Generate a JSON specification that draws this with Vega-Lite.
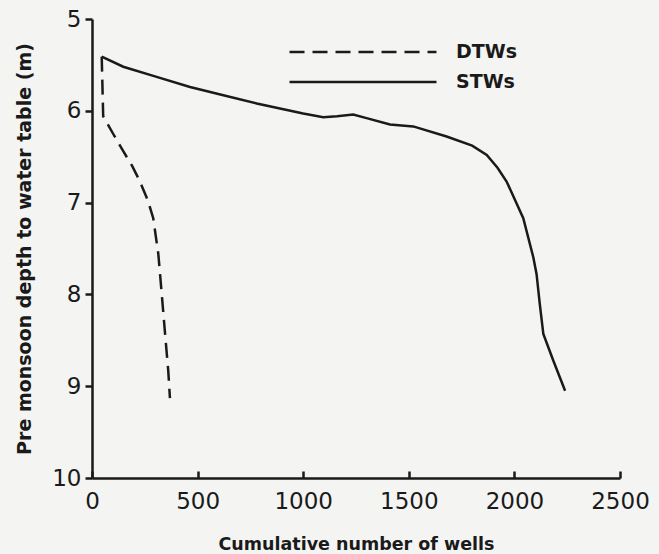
{
  "$schema": "https://vega.github.io/schema/vega-lite/v6.json",
  "width": 528,
  "height": 459,
  "autosize": "none",
  "padding": {"left": 92, "top": 19, "right": 39, "bottom": 76},
  "background": "#f4f4f2",
  "config": {
    "view": {"stroke": null},
    "font": "DejaVu Sans",
    "axis": {
      "domainColor": "#1a1a1a",
      "domainWidth": 2.5,
      "tickColor": "#1a1a1a",
      "tickWidth": 2.5,
      "labelColor": "#1a1a1a",
      "titleColor": "#1a1a1a",
      "labelFont": "DejaVu Sans",
      "titleFont": "DejaVu Sans",
      "labelFontSize": 23,
      "titleFontSize": 17.5,
      "titleFontWeight": "bold",
      "grid": false
    },
    "legend": {
      "labelFont": "DejaVu Sans",
      "labelFontSize": 19,
      "labelFontWeight": "bold",
      "labelColor": "#1a1a1a"
    }
  },
  "data": {
    "values": [
      {"series": "DTWs", "order": 1, "wells": 46, "depth": 5.41},
      {"series": "DTWs", "order": 2, "wells": 53, "depth": 6.06},
      {"series": "DTWs", "order": 3, "wells": 100, "depth": 6.25},
      {"series": "DTWs", "order": 4, "wells": 148, "depth": 6.44},
      {"series": "DTWs", "order": 5, "wells": 190, "depth": 6.6},
      {"series": "DTWs", "order": 6, "wells": 227, "depth": 6.77},
      {"series": "DTWs", "order": 7, "wells": 265, "depth": 6.98},
      {"series": "DTWs", "order": 8, "wells": 290, "depth": 7.17},
      {"series": "DTWs", "order": 9, "wells": 314, "depth": 7.56},
      {"series": "DTWs", "order": 10, "wells": 330, "depth": 7.99},
      {"series": "DTWs", "order": 11, "wells": 346, "depth": 8.43},
      {"series": "DTWs", "order": 12, "wells": 361, "depth": 8.83},
      {"series": "DTWs", "order": 13, "wells": 369, "depth": 9.13},
      {"series": "STWs", "order": 1, "wells": 46, "depth": 5.41},
      {"series": "STWs", "order": 2, "wells": 148, "depth": 5.52},
      {"series": "STWs", "order": 3, "wells": 306, "depth": 5.63},
      {"series": "STWs", "order": 4, "wells": 464, "depth": 5.74},
      {"series": "STWs", "order": 5, "wells": 622, "depth": 5.83},
      {"series": "STWs", "order": 6, "wells": 780, "depth": 5.92},
      {"series": "STWs", "order": 7, "wells": 1000, "depth": 6.03},
      {"series": "STWs", "order": 8, "wells": 1095, "depth": 6.07},
      {"series": "STWs", "order": 9, "wells": 1160, "depth": 6.06},
      {"series": "STWs", "order": 10, "wells": 1237, "depth": 6.04},
      {"series": "STWs", "order": 11, "wells": 1300, "depth": 6.08},
      {"series": "STWs", "order": 12, "wells": 1411, "depth": 6.15},
      {"series": "STWs", "order": 13, "wells": 1521, "depth": 6.17},
      {"series": "STWs", "order": 14, "wells": 1679, "depth": 6.28},
      {"series": "STWs", "order": 15, "wells": 1800, "depth": 6.38},
      {"series": "STWs", "order": 16, "wells": 1869, "depth": 6.48},
      {"series": "STWs", "order": 17, "wells": 1920, "depth": 6.62},
      {"series": "STWs", "order": 18, "wells": 1963, "depth": 6.77},
      {"series": "STWs", "order": 19, "wells": 2042, "depth": 7.17},
      {"series": "STWs", "order": 20, "wells": 2090, "depth": 7.6},
      {"series": "STWs", "order": 21, "wells": 2105, "depth": 7.78},
      {"series": "STWs", "order": 22, "wells": 2120, "depth": 8.1},
      {"series": "STWs", "order": 23, "wells": 2137, "depth": 8.43},
      {"series": "STWs", "order": 24, "wells": 2184, "depth": 8.72},
      {"series": "STWs", "order": 25, "wells": 2240, "depth": 9.05}
    ]
  },
  "layer": [
    {
      "transform": [{"filter": "datum.series === 'DTWs'"}],
      "mark": {"type": "line", "color": "#1a1a1a", "strokeWidth": 2.5},
      "encoding": {
        "x": {
          "field": "wells",
          "type": "quantitative",
          "scale": {"domain": [0, 2500], "nice": false, "zero": false},
          "axis": {
            "orient": "bottom",
            "values": [0, 500, 1000, 1500, 2000, 2500],
            "format": "d",
            "tickSize": -7,
            "labelPadding": 19,
            "title": "Cumulative number of wells",
            "titlePadding": 22,
            "labelFlush": false
          }
        },
        "y": {
          "field": "depth",
          "type": "quantitative",
          "scale": {"domain": [5, 10], "nice": false, "zero": false, "reverse": true},
          "axis": {
            "values": [5, 6, 7, 8, 9, 10],
            "format": "d",
            "tickSize": 7,
            "labelPadding": 4,
            "title": "Pre monsoon depth to water table (m)",
            "titleFontSize": 19,
            "titlePadding": 17,
            "labelFlush": false
          }
        },
        "order": {"field": "order", "type": "quantitative"},
        "strokeDash": {
          "field": "series",
          "type": "nominal",
          "scale": {"domain": ["DTWs"], "range": [[15, 8]]},
          "legend": {
            "title": null,
            "orient": "none",
            "legendX": 196,
            "legendY": -42,
            "symbolType": "stroke",
            "symbolSize": 21600,
            "symbolStrokeWidth": 2.5,
            "symbolStrokeColor": "#1a1a1a",
            "labelOffset": 18
          }
        }
      }
    },
    {
      "transform": [{"filter": "datum.series === 'STWs'"}],
      "mark": {"type": "line", "strokeWidth": 2.5},
      "encoding": {
        "x": {"field": "wells", "type": "quantitative"},
        "y": {"field": "depth", "type": "quantitative"},
        "order": {"field": "order", "type": "quantitative"},
        "color": {
          "field": "series",
          "type": "nominal",
          "scale": {"domain": ["STWs"], "range": ["#1a1a1a"]},
          "legend": {
            "title": null,
            "orient": "none",
            "legendX": 196,
            "legendY": -12,
            "symbolType": "stroke",
            "symbolSize": 21600,
            "symbolStrokeWidth": 2.5,
            "symbolStrokeColor": "#1a1a1a",
            "labelOffset": 18
          }
        }
      }
    }
  ],
  "resolve": {"legend": {"strokeDash": "independent", "color": "independent"}}
}
